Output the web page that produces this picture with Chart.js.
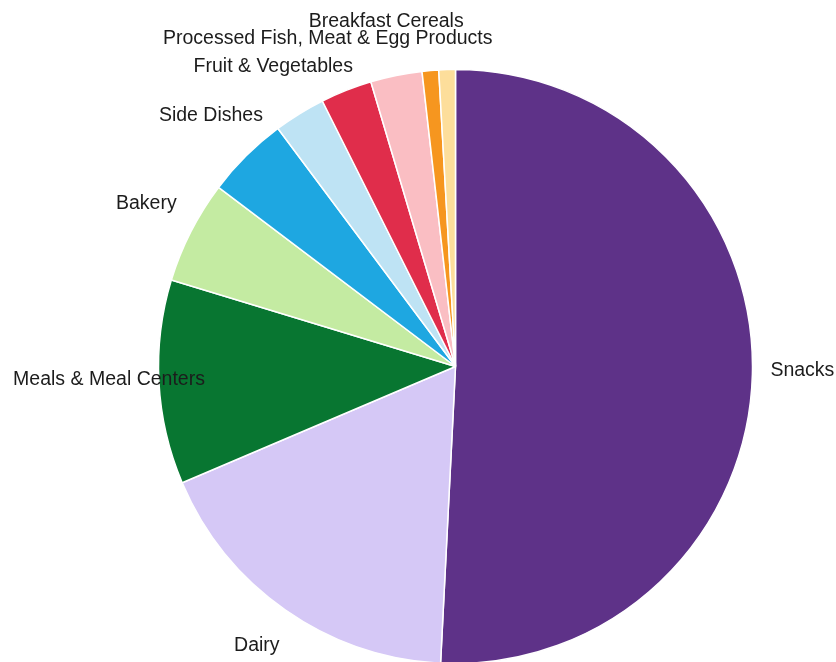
<!DOCTYPE html>
<html lang="en">

<head>
    <meta charset="UTF-8">
    <title>Product Categories</title>
    <script src="https://cdn.jsdelivr.net/npm/chart.js"></script>
    <style>
        html, body {
            margin: 0;
            padding: 0;
            background: #fff;
            overflow: hidden;
        }

        .wrap {
            position: relative;
            width: 836px;
            height: 662px;
        }
    </style>
</head>

<body>
    <div class="wrap">
        <canvas id="pie"></canvas>
    </div>

    <script>
        const categories = ['Snacks', 'Dairy', 'Meals & Meal Centers', 'Bakery', 'Side Dishes',
            'Fruit & Vegetables', 'Processed Fish, Meat & Egg Products', 'Breakfast Cereals',
            'Beverages', 'Condiments & Sauces'];
        const shares = [50.8, 17.8, 11.1, 5.6, 4.5, 2.8, 2.8, 2.8, 0.9, 0.9];
        const colors = ['#5e3288', '#d5c8f6', '#087631', '#c4eba2', '#1ea7e1',
            '#bee3f4', '#e02d4b', '#fabec3', '#f6961f', '#fdde9b'];

        // slices below this share get no label
        const minLabelShare = 2;

        const outsideLabels = {
            id: 'outsideLabels',
            afterDatasetsDraw(chart) {
                const ctx = chart.ctx;
                const meta = chart.getDatasetMeta(0);
                const values = chart.data.datasets[0].data;
                ctx.save();
                ctx.font = '19.5px "Liberation Sans", Arial, sans-serif';
                ctx.fillStyle = '#1c1c1c';
                ctx.textAlign = 'center';
                ctx.textBaseline = 'middle';
                meta.data.forEach(function (arc, i) {
                    if (values[i] < minLabelShare) return;
                    const p = arc.getProps(['x', 'y', 'startAngle', 'endAngle', 'outerRadius'], true);
                    const mid = (p.startAngle + p.endAngle) / 2;
                    const dist = p.outerRadius + 50;
                    ctx.fillText(chart.data.labels[i],
                        p.x + Math.cos(mid) * dist,
                        p.y + Math.sin(mid) * dist - 5);
                });
                ctx.restore();
            }
        };

        new Chart(document.getElementById('pie'), {
            type: 'pie',
            data: {
                labels: categories,
                datasets: [{
                    data: shares,
                    backgroundColor: colors,
                    borderColor: '#ffffff',
                    borderWidth: 1.5
                }]
            },
            options: {
                responsive: true,
                maintainAspectRatio: false,
                animation: false,
                radius: 297,
                layout: {
                    padding: { left: 120, right: 45, top: 71, bottom: 0 }
                },
                plugins: {
                    legend: { display: false },
                    tooltip: { enabled: false }
                }
            },
            plugins: [outsideLabels]
        });
    </script>
</body>

</html>
